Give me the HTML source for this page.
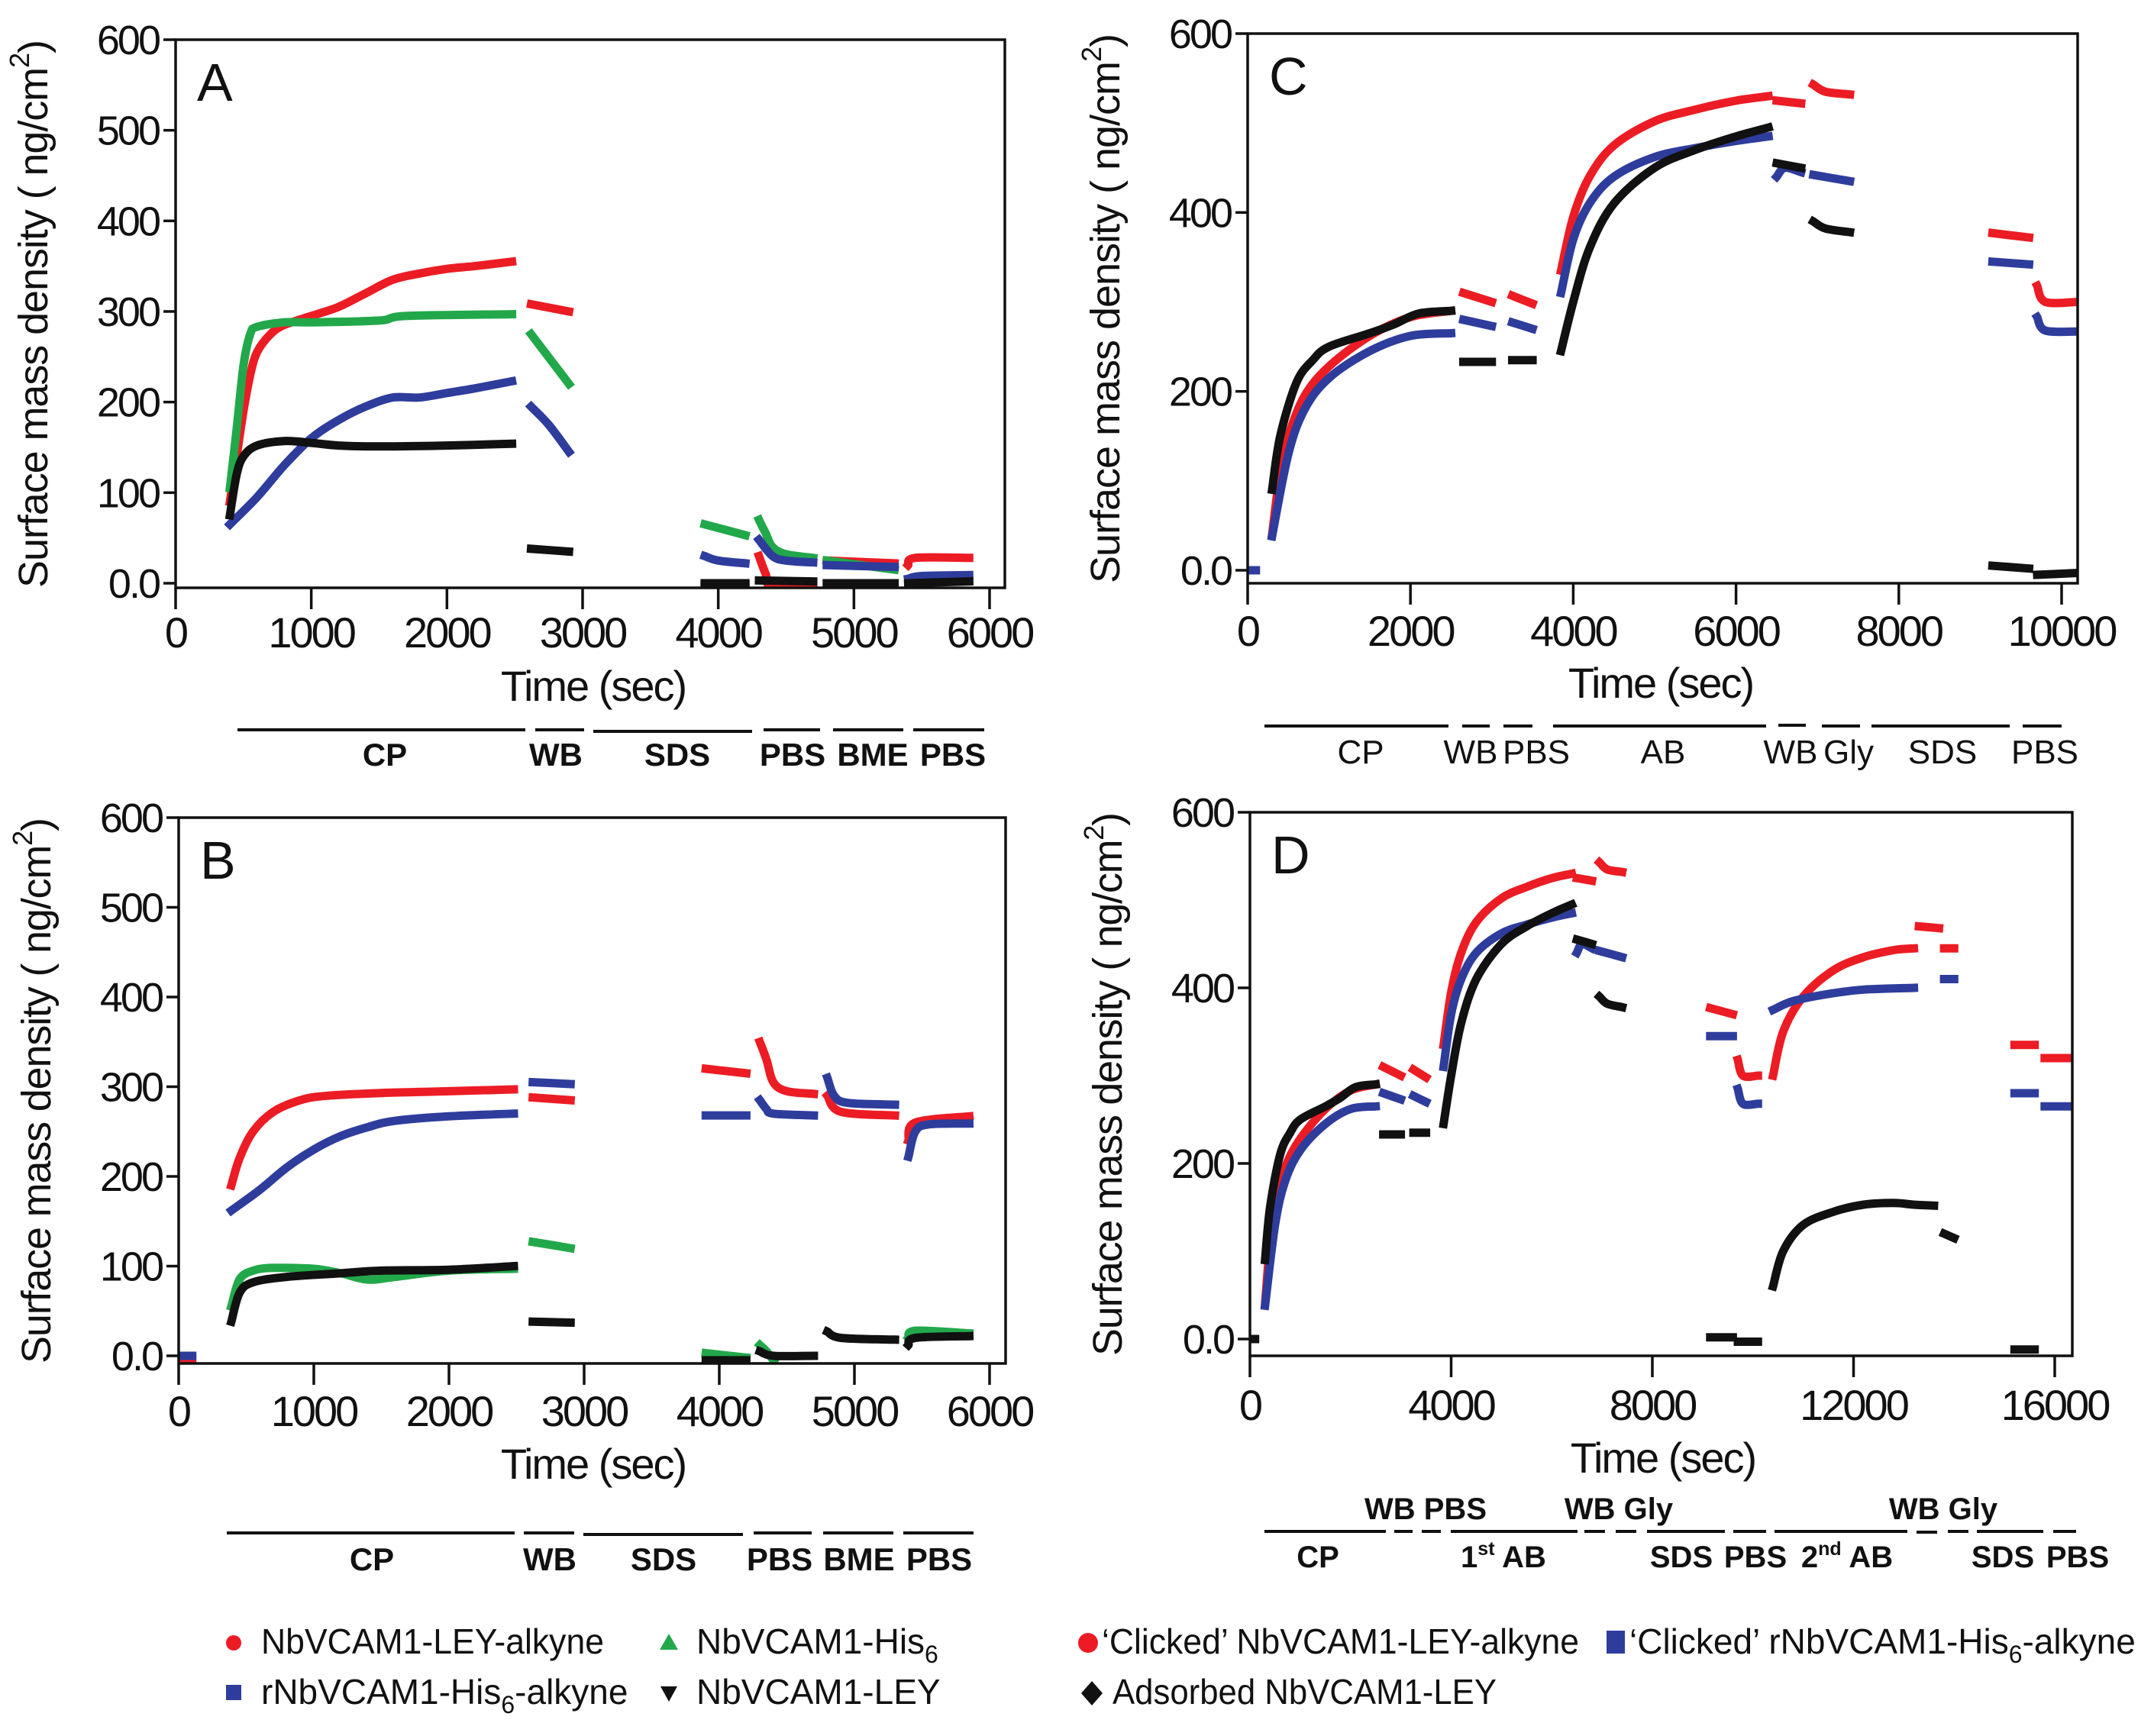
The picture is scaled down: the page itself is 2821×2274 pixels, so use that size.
<!DOCTYPE html>
<html><head><meta charset="utf-8">
<style>
html,body{margin:0;padding:0;background:#fff;}
svg{display:block;}
text{font-family:"Liberation Sans",Arial,sans-serif;}
</style></head>
<body>
<svg id="fig" width="2821" height="2274" viewBox="0 0 2821 2274" xmlns="http://www.w3.org/2000/svg">
<rect width="2821" height="2274" fill="#fff"/>
</svg>
<script>
// ===== Data (time in s, values in ng/cm2; null = gap) =====
// Panel A
const A_red_t = [400,450,500,550,600,700,800,1000,1200,1400,1600,1800,2000,2200,2480,null,2620,2900,null,3900,4200,null,4300,4350,4400,4700,null,4800,5300,null,5400,5450,5850];
const A_red_v = [90,140,190,230,255,275,285,295,305,320,335,342,347,350,355,null,308,300,null,-2,-2,null,30,10,-5,-2,null,25,22,null,20,28,28];
const A_green_t = [400,450,500,550,600,800,1000,1500,1700,2480,null,2620,2900,null,3900,4200,null,4300,4350,4400,4500,4700,null,4800,5300,null,5400,5850];
const A_green_v = [105,170,240,275,283,288,288,290,295,297,null,275,220,null,65,53,null,70,55,40,32,28,null,25,15,null,2,3];
const A_blue_t = [400,600,800,1000,1200,1400,1600,1800,2000,2200,2480,null,2620,2750,2900,null,3900,4000,4200,null,4300,4400,4500,4700,null,4800,5300,null,5400,5500,5850];
const A_blue_v = [65,95,130,160,180,195,205,205,210,215,223,null,195,175,145,null,30,25,22,null,48,30,25,23,null,20,18,null,5,8,9];
const A_black_t = [400,450,500,600,800,1000,1200,1500,2000,2480,null,2620,2900,null,3900,4200,null,4300,4700,null,4800,5300,null,5400,5850];
const A_black_v = [75,120,140,152,157,155,152,151,152,154,null,38,35,null,0,0,null,3,2,null,0,0,null,0,2];
// Panel B
const B_red_t = [0,100,null,390,450,550,700,900,1100,1500,2000,2480,null,2620,2900,null,3900,4200,null,4300,4350,4400,4500,4700,null,4800,4900,5300,null,5400,5450,5850];
const B_red_v = [-3,-3,null,190,220,250,272,285,290,293,295,297,null,288,285,null,320,315,null,350,330,305,295,292,null,290,272,268,null,240,260,267];
const B_blue_t = [0,100,null,390,600,800,1000,1200,1400,1600,2000,2480,null,2620,2900,null,3900,4200,null,4300,4350,4400,4700,null,4800,4850,4950,5300,null,5400,5450,5550,5850];
const B_blue_v = [0,0,null,162,185,210,230,245,255,262,267,270,null,305,303,null,268,268,null,285,275,270,268,null,310,290,282,280,null,222,250,258,259];
const B_green_t = [390,450,550,700,1000,1200,1400,1600,2000,2480,null,2620,2900,null,3900,4200,null,4300,4350,4400,null,5400,5450,5850];
const B_green_v = [55,85,95,98,97,92,85,88,95,97,null,127,120,null,3,-2,null,12,5,-5,null,20,28,25];
const B_black_t = [390,450,550,800,1200,1500,2000,2480,null,2620,2900,null,3900,4200,null,4300,4400,4700,null,4800,4900,5300,null,5400,5450,5850];
const B_black_v = [38,70,82,88,92,95,96,100,null,38,37,null,-5,-5,null,5,0,0,null,27,20,18,null,12,20,22];
// Panel C
const C_red_t = [0,100,null,300,400,500,700,1000,1500,2000,2500,null,2650,3000,null,3250,3500,null,3850,4000,4200,4500,5000,5500,6000,6400,null,6500,6800,null,6950,7100,7400,null,9150,9600,null,9700,9800,10200];
const C_red_v = [0,0,null,40,110,150,195,228,262,283,290,null,310,300,null,307,298,null,335,395,440,475,502,515,525,530,null,525,522,null,543,535,532,null,377,372,null,318,300,300];
const C_blue_t = [0,100,null,300,500,700,1000,1500,2000,2500,null,2650,3000,null,3250,3500,null,3850,4000,4200,4500,5000,5500,6000,6400,null,6500,6600,6800,null,6950,7400,null,9150,9600,null,9700,9800,10200];
const C_blue_v = [0,0,null,38,130,180,215,245,262,265,null,280,273,null,277,270,null,310,370,410,440,462,472,480,485,null,440,450,445,null,442,435,null,345,342,null,283,268,267];
const C_black_t = [300,400,600,800,1000,1500,1800,2100,2500,null,2650,3000,null,3250,3500,null,3850,4000,4200,4500,5000,5500,6000,6400,null,6500,6800,null,6950,7100,7400,null,9150,9600,null,9700,10200];
const C_black_v = [90,150,210,235,250,265,275,287,290,null,233,233,null,235,235,null,245,300,360,410,450,470,485,495,null,455,450,null,390,382,378,null,5,2,null,-5,-3];
// Panel D
const D_red_t = [0,100,null,300,400,500,700,1000,1500,2000,2500,null,2650,3000,null,3250,3500,null,3850,4000,4200,4500,5000,5500,6000,6400,null,6500,6800,null,6950,7100,7400,null,9150,9600,null,9700,9800,10100,null,10400,10600,11000,11600,12200,12800,13200,null,13300,13700,null,13800,14000,null,15200,15600,null,15800,16300];
const D_red_v = [0,0,null,40,110,150,195,228,262,283,290,null,310,300,null,307,298,null,335,395,440,475,502,515,525,530,null,525,522,null,543,535,532,null,377,370,null,318,300,300,null,300,350,390,420,435,443,445,null,470,468,null,445,445,null,335,335,null,320,320];
const D_blue_t = [0,100,null,300,500,700,1000,1500,2000,2500,null,2650,3000,null,3250,3500,null,3850,4000,4200,4500,5000,5500,6000,6400,null,6500,6600,6800,null,6950,7400,null,9150,9600,null,9700,9800,10100,null,10400,10800,11500,12200,13200,null,13800,14000,null,15200,15600,null,15800,16300];
const D_blue_v = [0,0,null,38,130,180,215,245,262,265,null,280,273,null,277,270,null,310,370,410,440,462,472,480,485,null,440,450,445,null,442,435,null,345,345,null,285,268,268,null,375,385,393,398,400,null,410,410,null,280,280,null,265,265];
const D_black_t = [0,100,null,300,400,600,800,1000,1500,1800,2100,2500,null,2650,3000,null,3250,3500,null,3850,4000,4200,4500,5000,5500,6000,6400,null,6500,6800,null,6950,7100,7400,null,9150,9600,null,9700,10100,null,10400,10600,11000,11600,12200,12800,13200,13600,null,13800,14000,null,15200,15600];
const D_black_v = [0,0,null,90,150,210,235,250,265,275,287,290,null,233,233,null,235,235,null,245,300,360,410,450,470,485,495,null,455,450,null,390,382,378,null,2,2,null,-3,-3,null,60,100,130,145,153,155,153,152,null,120,115,null,-12,-12];
// Ticks
const A_xticks = [0,1000,2000,3000,4000,5000,6000];
const A_yticks = [0,100,200,300,400,500,600];
const A_ylabels = ["0.0","100","200","300","400","500","600"];
const C_xticks = [0,2000,4000,6000,8000,10000];
const C_yticks = [0,200,400,600];
const C_ylabels = ["0.0","200","400","600"];
const D_xticks = [0,4000,8000,12000,16000];

const NS = "http://www.w3.org/2000/svg";
const svg = document.getElementById('fig');
function el(tag, attrs, parent){
  const e = document.createElementNS(NS, tag);
  for (const k in attrs) e.setAttribute(k, attrs[k]);
  (parent||svg).appendChild(e);
  return e;
}
const COL = {red:'#ec1c24', green:'#22a84a', blue:'#2e3d9c', black:'#111111'};

// smooth path through screen points (Catmull-Rom rendering)
function smoothPath(p){
  if (p.length === 1) return 'M' + p[0][0] + ',' + p[0][1] + 'l0.1,0';
  let d = 'M' + p[0][0].toFixed(1) + ',' + p[0][1].toFixed(1);
  for (let i = 0; i < p.length - 1; i++) {
    const p0 = p[i-1] || p[i], p1 = p[i], p2 = p[i+1], p3 = p[i+2] || p2;
    const c1x = p1[0] + (p2[0]-p0[0])/6, c1y = p1[1] + (p2[1]-p0[1])/6;
    const c2x = p2[0] - (p3[0]-p1[0])/6, c2y = p2[1] - (p3[1]-p1[1])/6;
    d += 'C' + c1x.toFixed(1) + ',' + c1y.toFixed(1) + ' ' + c2x.toFixed(1) + ',' + c2y.toFixed(1) + ' ' + p2[0].toFixed(1) + ',' + p2[1].toFixed(1);
  }
  return d;
}

function panel(cfg){
  const g = el('g', {});
  
  
  const sx = t => cfg.x0 + t * cfg.pxPerT;
  const sy = v => cfg.y0 - v * cfg.pxPerV;
  const clipId = 'clip' + cfg.id;
  const cp = el('clipPath', {id: clipId}, g);
  el('rect', {x: cfg.L, y: cfg.T, width: cfg.R - cfg.L, height: cfg.B - cfg.T}, cp);
  const sg = el('g', {'clip-path': 'url(#' + clipId + ')'}, g);
  cfg.series.forEach(s => {
    let pts = [];
    const flush = () => {
      if (pts.length) {
        const pl = el('path', {d: smoothPath(pts), fill: 'none', stroke: COL[s.c], 'stroke-width': 11, 'stroke-linejoin': 'round', 'stroke-linecap': 'square'}, sg);
        
        
      }
      pts = [];
    };
    for (let i = 0; i < s.t.length; i++) {
      if (s.t[i] === null || s.v[i] === null) { flush(); continue; }
      pts.push([sx(s.t[i]), sy(s.v[i])]);
    }
    flush();
  });
  const fr = el('rect', {x: cfg.L, y: cfg.T, width: cfg.R - cfg.L, height: cfg.B - cfg.T, fill: 'none', stroke: '#111', 'stroke-width': 3.5}, g);
  
  
  cfg.yticks.forEach((v, i) => {
    const y = sy(v);
    el('line', {x1: cfg.L - 16, x2: cfg.L, y1: y, y2: y, stroke: '#111', 'stroke-width': 3.5}, g);
    const tx = el('text', {x: cfg.L - 22, y: y + 19, 'font-size': 54, 'text-anchor': 'end', fill: '#111', 'letter-spacing': '-3'}, g);
    tx.textContent = cfg.ylabels[i];
    
    
  });
  cfg.xticks.forEach(t => {
    const x = sx(t);
    el('line', {x1: x, x2: x, y1: cfg.B, y2: cfg.B + 28, stroke: '#111', 'stroke-width': 3.5}, g);
    const tx = el('text', {x: x, y: cfg.xlabY, 'font-size': 56, 'text-anchor': 'middle', fill: '#111', 'letter-spacing': '-3'}, g);
    tx.textContent = String(t);
    
    
  });
  const pl = el('text', {x: cfg.L + 28, y: cfg.T + 80, 'font-size': 70, fill: '#111'}, g);
  pl.textContent = cfg.id;
  
  
  const xt = el('text', {x: cfg.titleX, y: cfg.titleY, 'font-size': 56, 'text-anchor': 'middle', fill: '#111', 'letter-spacing': '-2'}, g);
  xt.textContent = 'Time (sec)';
  
  
  const ycx = cfg.L - 168, ycy = (cfg.T + cfg.B) / 2;
  const yt = el('text', {x: ycx, y: ycy, 'font-size': 54, 'text-anchor': 'middle', fill: '#111', transform: 'rotate(-90 ' + ycx + ' ' + ycy + ')'}, g);
  yt.innerHTML = 'Surface mass density ( ng/cm<tspan dy="-24" font-size="36">2</tspan><tspan dy="24">)</tspan>';
  yt.setAttribute('textLength', cfg.B - cfg.T);
  
  
  cfg.bars.forEach(b => {
    const ln = el('line', {x1: b[0], x2: b[1], y1: b[2], y2: b[2], stroke: '#111', 'stroke-width': 4}, g);
    
    
  });
  cfg.steps.forEach(s => {
    const tx = el('text', {x: s[1], y: s[2], 'font-size': cfg.stepSize, 'text-anchor': 'middle', fill: '#111', 'font-weight': cfg.stepBold ? 'bold' : 'normal'}, g);
    tx.innerHTML = s[0];
    
    
  });
}

panel({id:'A', L:230, R:1316, T:52, B:770, x0:230, pxPerT:(1296-230)/6000, y0:764, pxPerV:(764-52)/600,
  xticks:A_xticks, yticks:A_yticks, ylabels:A_ylabels, xlabY:848, titleX:777, titleY:918,
  series:[{name:'a-red',c:'red',t:A_red_t,v:A_red_v},{name:'a-green',c:'green',t:A_green_t,v:A_green_v},{name:'a-blue',c:'blue',t:A_blue_t,v:A_blue_v},{name:'a-black',c:'black',t:A_black_t,v:A_black_v}],
  bars:[[311,688,956],[701,765,956],[777,985,958],[1000,1074,956],[1091,1183,956],[1196,1289,956]],
  steps:[['CP',504,1003],['WB',728,1003],['SDS',887,1003],['PBS',1038,1003],['BME',1143,1003],['PBS',1248,1003]],
  stepSize:42, stepBold:true});
panel({id:'B', L:234, R:1317, T:1071, B:1786, x0:234, pxPerT:(1296-234)/6000, y0:1776, pxPerV:(1776-1071)/600,
  xticks:A_xticks, yticks:A_yticks, ylabels:A_ylabels, xlabY:1868, titleX:777, titleY:1937,
  series:[{name:'b-red',c:'red',t:B_red_t,v:B_red_v},{name:'b-blue',c:'blue',t:B_blue_t,v:B_blue_v},{name:'b-green',c:'green',t:B_green_t,v:B_green_v},{name:'b-black',c:'black',t:B_black_t,v:B_black_v}],
  bars:[[297,674,2008],[686,752,2008],[764,973,2010],[987,1063,2008],[1078,1170,2008],[1183,1275,2008]],
  steps:[['CP',487,2057],['WB',720,2057],['SDS',869,2057],['PBS',1021,2057],['BME',1125,2057],['PBS',1230,2057]],
  stepSize:42, stepBold:true});
panel({id:'C', L:1634, R:2721, T:44, B:764, x0:1634, pxPerT:(2700-1634)/10000, y0:747, pxPerV:(747-44)/600,
  xticks:C_xticks, yticks:C_yticks, ylabels:C_ylabels, xlabY:846, titleX:2175, titleY:914,
  series:[{name:'c-red',c:'red',t:C_red_t,v:C_red_v},{name:'c-blue',c:'blue',t:C_blue_t,v:C_blue_v},{name:'c-black',c:'black',t:C_black_t,v:C_black_v}],
  bars:[[1656,1897,951],[1915,1951,951],[1969,2007,951],[2034,2313,951],[2329,2365,950],[2386,2436,951],[2451,2632,951],[2649,2700,951]],
  steps:[['CP',1782,1000],['WB',1926,1000],['PBS',2012,1000],['AB',2178,1000],['WB',2345,1000],['Gly',2421,1000],['SDS',2544,1000],['PBS',2678,1000]],
  stepSize:44, stepBold:false});
panel({id:'D', L:1637, R:2714, T:1064, B:1776, x0:1637, pxPerT:(2691-1637)/16000, y0:1754, pxPerV:(1754-1064)/600,
  xticks:D_xticks, yticks:C_yticks, ylabels:C_ylabels, xlabY:1860, titleX:2178, titleY:1929,
  series:[{name:'d-red',c:'red',t:D_red_t,v:D_red_v},{name:'d-blue',c:'blue',t:D_blue_t,v:D_blue_v},{name:'d-black',c:'black',t:D_black_t,v:D_black_v}],
  bars:[[1656,1815,2006],[1826,1850,2006],[1862,1887,2006],[1900,2066,2006],[2075,2102,2006],[2116,2143,2006],[2157,2259,2006],[2270,2313,2006],[2324,2498,2006],[2510,2537,2007],[2551,2578,2006],[2589,2676,2006],[2689,2719,2006]],
  steps:[['CP',1726,2053],['1<tspan dy="-16" font-size="25">st</tspan><tspan dy="16"> AB</tspan>',1969,2053],['SDS',2202,2053],['PBS',2299,2053],['2<tspan dy="-16" font-size="25">nd</tspan><tspan dy="16"> AB</tspan>',2419,2053],['SDS',2623,2053],['PBS',2721,2053],['WB PBS',1867,1990],['WB Gly',2120,1990],['WB Gly',2545,1990]],
  stepSize:40, stepBold:true});

function legText(x, y, html, len, name){
  const t = el('text', {x: x, y: y, 'font-size': 46, fill: '#111'});
  t.innerHTML = html;
  if (len) { t.setAttribute('textLength', len); t.setAttribute('lengthAdjust', 'spacingAndGlyphs'); }
  
  
  return t;
}
const lg1 = el('g', {});


el('circle', {cx: 306, cy: 2152, r: 10, fill: COL.red});
legText(342, 2166, 'NbVCAM1-LEY-alkyne', 449, 'legend-entry-nbvcam1-ley-alkyne');
el('polygon', {points: '876,2140 888,2161 864,2161', fill: COL.green});
legText(912, 2166, 'NbVCAM1-His<tspan dy="12" font-size="32">6</tspan>', null, 'legend-entry-nbvcam1-his6');
el('rect', {x: 296, y: 2207, width: 20, height: 20, fill: COL.blue});
legText(342, 2232, 'rNbVCAM1-His<tspan dy="12" font-size="32">6</tspan><tspan dy="-12">-alkyne</tspan>', null, 'legend-entry-rnbvcam1-his6-alkyne');
el('polygon', {points: '865,2209 887,2209 876,2229', fill: COL.black});
legText(912, 2232, 'NbVCAM1-LEY', null, 'legend-entry-nbvcam1-ley');

el('circle', {cx: 1425, cy: 2152, r: 13, fill: COL.red});
legText(1443, 2166, '‘Clicked’ NbVCAM1-LEY-alkyne', 625, 'legend-entry-clicked-ley-alkyne');
el('rect', {x: 2104, y: 2136, width: 24, height: 30, fill: COL.blue});
legText(2134, 2166, '‘Clicked’ rNbVCAM1-His<tspan dy="12" font-size="32">6</tspan><tspan dy="-12">-alkyne</tspan>', null, 'legend-entry-clicked-his6-alkyne');
el('polygon', {points: '1430,2202 1444,2218 1430,2234 1416,2218', fill: COL.black});
legText(1457, 2232, 'Adsorbed NbVCAM1-LEY', 503, 'legend-entry-adsorbed-ley');
</script>
</body></html>
